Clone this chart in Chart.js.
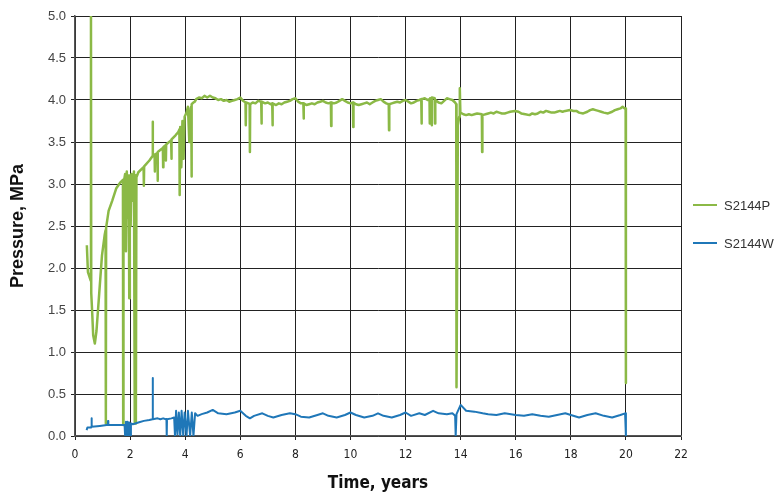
<!DOCTYPE html>
<html>
<head>
<meta charset="utf-8">
<script src="https://cdn.jsdelivr.net/npm/chart.js@4/dist/chart.umd.min.js"></script>
<style>
  html, body { margin: 0; padding: 0; background: #fff; }
  #wrap { width: 782px; height: 497px; position: relative; }
</style>
</head>
<body>
<div id="wrap"><canvas id="pressureChart"></canvas></div>
<script>
// Series data (time in years, pressure in MPa)
const seriesNames = ["S2144P", "S2144W"];

const timeP = [
  0.43, 0.47, 0.52, 0.57, 0.58, 0.59, 0.62, 0.66, 0.72, 0.78, 0.88, 0.98, 1.08, 1.11, 1.12, 1.13, 1.22, 1.35, 1.5, 1.65,
  1.74, 1.75, 1.76, 1.82, 1.85, 1.88, 1.92, 1.95, 1.97, 1.99, 2.02, 2.05, 2.1, 2.14, 2.17, 2.19, 2.21, 2.23, 2.3, 2.49,
  2.5, 2.51, 2.7, 2.81, 2.82, 2.83, 2.89, 2.9, 2.91, 2.99, 3.0, 3.01, 3.19, 3.2, 3.21, 3.29, 3.3, 3.31, 3.45, 3.49,
  3.5, 3.51, 3.65, 3.75, 3.79, 3.8, 3.82, 3.86, 3.9, 3.94, 3.98, 4.05, 4.1, 4.15, 4.2, 4.22, 4.23, 4.24, 4.3, 4.35,
  4.4, 4.5, 4.6, 4.7, 4.8, 4.9, 5.0, 5.1, 5.2, 5.3, 5.4, 5.5, 5.6, 5.7, 5.8, 5.9, 6.0, 6.1, 6.19, 6.2,
  6.21, 6.3, 6.34, 6.35, 6.36, 6.45, 6.55, 6.65, 6.76, 6.77, 6.78, 6.9, 7.0, 7.1, 7.16, 7.17, 7.18, 7.3, 7.4, 7.5,
  7.6, 7.7, 7.8, 7.9, 8.0, 8.1, 8.2, 8.29, 8.3, 8.31, 8.4, 8.5, 8.6, 8.7, 8.8, 8.9, 9.0, 9.1, 9.2, 9.29,
  9.3, 9.31, 9.4, 9.5, 9.6, 9.7, 9.8, 9.9, 10.0, 10.09, 10.1, 10.11, 10.2, 10.3, 10.4, 10.5, 10.6, 10.7, 10.8, 10.9,
  11.0, 11.1, 11.2, 11.3, 11.39, 11.4, 11.41, 11.5, 11.6, 11.7, 11.8, 11.9, 12.0, 12.1, 12.2, 12.3, 12.4, 12.5, 12.57, 12.58,
  12.59, 12.7, 12.8, 12.87, 12.88, 12.89, 12.94, 12.95, 12.96, 13.06, 13.07, 13.08, 13.2, 13.3, 13.4, 13.5, 13.6, 13.7, 13.8, 13.84,
  13.85, 13.9, 13.95, 13.97, 13.99, 14.1, 14.2, 14.3, 14.4, 14.5, 14.6, 14.77, 14.78, 14.79, 14.9, 15.0, 15.1, 15.2, 15.3, 15.4,
  15.5, 15.6, 15.7, 15.8, 15.97, 16.1, 16.2, 16.35, 16.5, 16.6, 16.7, 16.8, 16.9, 17.0, 17.1, 17.2, 17.3, 17.4, 17.5, 17.6,
  17.7, 17.8, 17.97, 18.1, 18.2, 18.3, 18.45, 18.6, 18.7, 18.8, 18.9, 19.0, 19.1, 19.2, 19.35, 19.5, 19.6, 19.7, 19.8, 19.88,
  19.95, 19.99, 20.0
];
const pressureP = [
  2.27, 1.95, 1.9, 1.85, 5.0, 1.7, 1.5, 1.2, 1.1, 1.25, 1.7, 2.15, 2.4, 2.45, 0.15, 2.48, 2.68, 2.8, 2.95, 3.02,
  3.05, 0.13, 3.0, 3.12, 2.2, 3.15, 2.6, 3.1, 1.64, 3.1, 2.5, 3.12, 2.8, 3.15, 0.15, 3.1, 0.15, 3.08, 3.14, 3.2,
  2.98, 3.21, 3.28, 3.33, 3.74, 3.33, 3.35, 3.15, 3.35, 3.37, 3.04, 3.38, 3.43, 3.2, 3.44, 3.46, 3.28, 3.47, 3.51, 3.52,
  3.3, 3.53, 3.58, 3.62, 3.65, 2.87, 3.68, 3.2, 3.75, 3.3, 3.8, 3.85, 3.92, 3.5, 3.9, 3.92, 3.09, 3.95, 3.97, 3.98,
  4.01, 4.03, 4.02, 4.05, 4.03, 4.05, 4.03, 4.02, 4.0, 4.01, 3.99, 4.0, 3.98, 3.99, 4.0, 4.01, 4.03, 3.99, 3.97, 3.70,
  3.97, 3.96, 3.95, 3.38, 3.95, 3.97, 3.96, 3.99, 3.98, 3.72, 3.98, 3.96, 3.97, 3.95, 3.96, 3.70, 3.96, 3.94, 3.96, 3.95,
  3.97, 3.98, 3.99, 4.01, 4.02, 3.98, 3.96, 3.96, 3.78, 3.96, 3.94, 3.95, 3.96, 3.95, 3.97, 3.98, 3.99, 3.97, 3.96, 3.97,
  3.69, 3.97, 3.96, 3.97, 3.99, 4.01, 3.99, 3.97, 3.96, 3.97, 3.68, 3.97, 3.95, 3.94, 3.95, 3.96, 3.97, 3.95, 3.97, 3.99,
  4.0, 4.01, 3.98, 3.96, 3.95, 3.64, 3.95, 3.96, 3.97, 3.98, 3.97, 3.99, 4.0, 3.98, 3.96, 3.97, 3.99, 4.0, 4.01, 3.72,
  4.01, 4.02, 4.0, 4.01, 3.72, 4.02, 4.02, 3.70, 4.03, 4.02, 3.72, 4.0, 3.97, 3.96, 3.99, 4.02, 4.01, 4.0, 3.97, 3.95,
  0.58, 3.7, 3.8, 4.14, 3.85, 3.83, 3.82, 3.83, 3.82, 3.83, 3.84, 3.83, 3.38, 3.82, 3.83, 3.84, 3.85, 3.84, 3.86, 3.85,
  3.84, 3.84, 3.85, 3.86, 3.87, 3.86, 3.84, 3.83, 3.82, 3.84, 3.83, 3.84, 3.86, 3.85, 3.87, 3.86, 3.85, 3.85, 3.86, 3.87,
  3.86, 3.87, 3.88, 3.87, 3.87, 3.85, 3.84, 3.86, 3.88, 3.89, 3.88, 3.87, 3.86, 3.85, 3.84, 3.86, 3.88, 3.89, 3.9, 3.92,
  3.9, 3.9, 0.63
];

const timeW = [
  0.42, 0.45, 0.58, 0.59, 0.6, 0.61, 0.9, 1.15, 1.19, 1.2, 1.21, 1.6, 1.8, 1.82, 1.85, 1.88, 1.91, 1.94, 1.97, 2.0,
  2.03, 2.1, 2.3, 2.5, 2.7, 2.81, 2.82, 2.83, 3.0, 3.1, 3.2, 3.3, 3.32, 3.33, 3.34, 3.5, 3.6, 3.63, 3.67, 3.72,
  3.77, 3.82, 3.87, 3.93, 3.98, 4.05, 4.1, 4.18, 4.24, 4.3, 4.36, 4.45, 4.6, 4.8, 5.0, 5.2, 5.5, 5.8, 6.0, 6.2,
  6.35, 6.5, 6.8, 7.0, 7.2, 7.5, 7.8, 8.0, 8.2, 8.5, 8.8, 9.0, 9.2, 9.5, 9.8, 10.0, 10.2, 10.5, 10.8, 11.0,
  11.2, 11.5, 11.8, 12.0, 12.2, 12.5, 12.7, 13.0, 13.2, 13.5, 13.7, 13.8, 13.82, 13.85, 14.0, 14.2, 14.5, 14.8, 15.0, 15.3,
  15.6, 16.0, 16.3, 16.6, 16.9, 17.2, 17.5, 17.8, 18.0, 18.3, 18.6, 18.9, 19.2, 19.5, 19.8, 19.97, 20.0
];
const pressureW = [
  0.07, 0.1, 0.1, 0.11, 0.21, 0.11, 0.12, 0.13, 0.13, 0.18, 0.13, 0.13, 0.13, 0.0, 0.17, 0.0, 0.17, 0.0, 0.16, 0.0,
  0.15, 0.14, 0.16, 0.18, 0.19, 0.2, 0.69, 0.2, 0.21, 0.2, 0.21, 0.2, 0.2, 0.0, 0.2, 0.21, 0.22, 0.0, 0.3, 0.02,
  0.28, 0.0, 0.3, 0.0, 0.28, 0.0, 0.3, 0.0, 0.28, 0.0, 0.27, 0.24, 0.26, 0.28, 0.31, 0.27, 0.26, 0.28, 0.3, 0.24,
  0.21, 0.24, 0.27, 0.24, 0.22, 0.25, 0.27, 0.26, 0.23, 0.22, 0.25, 0.27, 0.24, 0.22, 0.25, 0.28, 0.25, 0.22, 0.24, 0.27,
  0.24, 0.22, 0.25, 0.28, 0.24, 0.27, 0.25, 0.3, 0.27, 0.26, 0.27, 0.24, 0.0, 0.26, 0.37, 0.3, 0.29, 0.27, 0.26, 0.25,
  0.27, 0.25, 0.24, 0.26, 0.24, 0.23, 0.25, 0.27, 0.25, 0.22, 0.25, 0.27, 0.24, 0.22, 0.25, 0.27, 0.0
];

const xTickMin = 0, xTickMax = 22, xTickStep = 2;
const yTickMin = 0, yTickMax = 5, yTickStep = 0.5;

const green = "#8bb946";
const blue = "#1f77b8";

function toPoints(xs, ys) {
  return xs.map((x, i) => ({ x: x, y: ys[i] }));
}

// Legend drawn beside the plot, to the right
const sideLegend = {
  id: "sideLegend",
  afterDraw(chart) {
    const ctx = chart.ctx;
    const rows = [{ y: 205, i: 0 }, { y: 243, i: 1 }];
    ctx.save();
    rows.forEach(r => {
      const ds = chart.data.datasets[r.i];
      ctx.strokeStyle = ds.borderColor;
      ctx.lineWidth = 2;
      ctx.beginPath();
      ctx.moveTo(693, r.y);
      ctx.lineTo(717, r.y);
      ctx.stroke();
      ctx.fillStyle = "#333";
      ctx.font = "13px 'Liberation Sans', Arial, sans-serif";
      ctx.textBaseline = "middle";
      ctx.textAlign = "left";
      ctx.fillText(ds.label, 724, r.y + 1);
    });
    ctx.restore();
  }
};

new Chart(document.getElementById("pressureChart"), {
  type: "line",
  data: {
    datasets: [
      {
        label: seriesNames[0],
        data: toPoints(timeP, pressureP),
        borderColor: green,
        borderWidth: 2.5,
        pointRadius: 0,
        tension: 0,
        borderJoinStyle: "round",
        order: 2
      },
      {
        label: seriesNames[1],
        data: toPoints(timeW, pressureW),
        borderColor: blue,
        borderWidth: 2,
        pointRadius: 0,
        tension: 0,
        borderJoinStyle: "round",
        order: 1
      }
    ]
  },
  options: {
    responsive: true,
    maintainAspectRatio: false,
    animation: false,
    layout: { padding: { top: 16, right: 101, left: 0, bottom: 0 } },
    plugins: {
      legend: { display: false },
      tooltip: { enabled: false }
    },
    scales: {
      x: {
        type: "linear",
        min: xTickMin,
        max: xTickMax,
        afterFit: s => { s.height = 61; },
        ticks: {
          stepSize: xTickStep,
          color: "#222",
          padding: 8,
          font: { family: "'DejaVu Sans Condensed', 'Liberation Sans Narrow', sans-serif", size: 12 }
        },
        grid: { color: "#222", lineWidth: 1, tickLength: 4 },
        border: { color: "#555", width: 1.5 },
        title: {
          display: true,
          text: "Time, years",
          color: "#111",
          padding: { top: 8, bottom: 3 },
          font: { family: "'DejaVu Sans Condensed', 'Liberation Sans Narrow', sans-serif", size: 17, weight: "bold" }
        }
      },
      y: {
        min: yTickMin,
        max: yTickMax,
        afterFit: s => { s.width = 75; },
        ticks: {
          stepSize: yTickStep,
          color: "#444",
          padding: 5,
          callback: v => v.toFixed(1),
          font: { family: "'Liberation Sans', Arial, sans-serif", size: 13 }
        },
        grid: { color: "#222", lineWidth: 1, tickLength: 4 },
        border: { color: "#555", width: 1.5 },
        title: {
          display: true,
          text: "Pressure, MPa",
          color: "#111",
          padding: { top: 7, bottom: 0 },
          font: { family: "'Liberation Sans', Arial, sans-serif", size: 18, weight: "bold" }
        }
      }
    }
  },
  plugins: [sideLegend]
});
</script>
</body>
</html>
